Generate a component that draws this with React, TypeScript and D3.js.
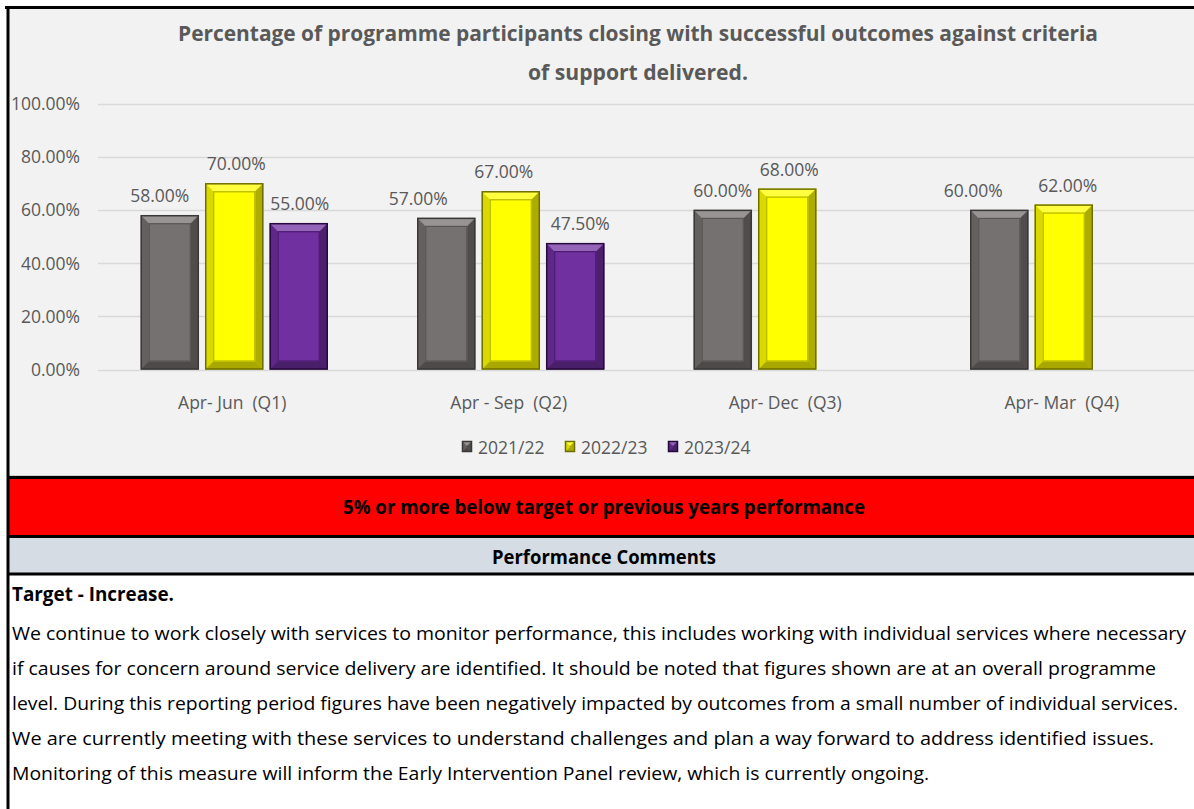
import React from "react";
import * as d3 from "d3";

const categories = ["Apr- Jun  (Q1)", "Apr - Sep  (Q2)", "Apr- Dec  (Q3)", "Apr- Mar  (Q4)"];
const seriesNames = ["2021/22", "2022/23", "2023/24"];
const values2122: (number | null)[] = [0.58, 0.57, 0.6, 0.6];
const values2223: (number | null)[] = [0.7, 0.67, 0.68, 0.62];
const values2324: (number | null)[] = [0.55, 0.475, null, null];
const yTicks = [0, 0.2, 0.4, 0.6, 0.8, 1.0];

const titleLines = [
  "Percentage of programme participants closing with successful outcomes against criteria",
  "of support delivered.",
];
const statusText = "5% or more below target or previous years performance";
const commentsHeader = "Performance Comments";
const targetText = "Target - Increase.";
const commentLines = [
  "We continue to work closely with services to monitor performance, this includes working with individual services where necessary",
  "if causes for concern around service delivery are identified. It should be noted that figures shown are at an overall programme",
  "level. During this reporting period figures have been negatively impacted by outcomes from a small number of individual services.",
  "We are currently meeting with these services to understand challenges and plan a way forward to address identified issues.",
  "Monitoring of this measure will inform the Early Intervention Panel review, which is currently ongoing.",
];

// styling / layout (not data)
const seriesStyle = [
  { fill: "#767171", border: "#3a3737", inner: "#5a5656" },
  { fill: "#ffff00", border: "#6e6e00", inner: "#b5b500" },
  { fill: "#7030a0", border: "#26093d", inner: "#4c1c70" },
];
const labelDx = [
  [-10, 2, 1],
  [-28, -7, 5],
  [0, 2, 0],
  [-26, 4, 0],
];
const commentWidths = [1174, 1144, 1166, 1142, 917];
const FONT = "'Open Sans', 'Noto Sans', sans-serif";
const TEXT_GREY = "#595959";

function Bar({ x, y, w, h, s }: { x: number; y: number; w: number; h: number; s: (typeof seriesStyle)[number] }) {
  const b = Math.min(8, h / 2);
  const x2 = x + w;
  const y2 = y + h;
  const top = `${x},${y} ${x2},${y} ${x2 - b},${y + b} ${x + b},${y + b}`;
  const left = `${x},${y} ${x + b},${y + b} ${x + b},${y2 - b} ${x},${y2}`;
  const right = `${x2},${y} ${x2},${y2} ${x2 - b},${y2 - b} ${x2 - b},${y + b}`;
  const bottom = `${x},${y2} ${x + b},${y2 - b} ${x2 - b},${y2 - b} ${x2},${y2}`;
  return (
    <g>
      <rect x={x} y={y} width={w} height={h} fill={s.fill} />
      <polygon points={top} fill="#ffffff" opacity={0.25} />
      <polygon points={left} fill="#000000" opacity={0.15} />
      <polygon points={right} fill="#000000" opacity={0.32} />
      <polygon points={bottom} fill="#000000" opacity={0.34} />
      <rect x={x + b + 0.5} y={y + b + 0.5} width={Math.max(0, w - 2 * b - 1)} height={Math.max(0, h - 2 * b - 1)} fill="none" stroke={s.inner} strokeWidth={1.2} />
      <rect x={x + 0.5} y={y + 0.5} width={w - 1} height={h - 1} fill="none" stroke={s.border} strokeWidth={1.5} />
    </g>
  );
}

export default function App() {
  const W = 1194;
  const H = 809;
  const seriesValues = [values2122, values2223, values2324];

  const x0 = d3.scaleBand<string>().domain(categories).range([96, 1202]).paddingInner(0.3237).paddingOuter(0.16185);
  const x1 = d3.scaleBand<string>().domain(seriesNames).range([0, x0.bandwidth()]).paddingInner(0.1);
  const y = d3.scaleLinear().domain([0, 1]).range([369.5, 103.5]);
  const fmt = d3.format(".2%");

  return (
    <svg width={W} height={H} style={{ position: "absolute", left: 0, top: 0, display: "block" }} fontFamily={FONT}>
      <rect x={0} y={0} width={W} height={H} fill="#ffffff" />
      {/* chart area */}
      <rect x={9} y={9} width={W - 9} height={467} fill="#f2f2f2" />
      <line x1={9} x2={W} y1={475.5} y2={475.5} stroke="#cfcfcf" strokeWidth={1} />

      {/* title */}
      <text x={638} y={41} textAnchor="middle" fontSize={22} fontWeight={700} fill={TEXT_GREY} textLength={920} lengthAdjust="spacingAndGlyphs">
        {titleLines[0]}
      </text>
      <text x={638} y={80} textAnchor="middle" fontSize={22} fontWeight={700} fill={TEXT_GREY} textLength={220} lengthAdjust="spacingAndGlyphs">
        {titleLines[1]}
      </text>

      {/* gridlines & y ticks */}
      {yTicks.map((t) => (
        <g key={t}>
          <line x1={98} x2={W} y1={Math.round(y(t)) + 0.5} y2={Math.round(y(t)) + 0.5} stroke="#d9d9d9" strokeWidth={1.3} />
          <text x={80} y={y(t) + 6.5} textAnchor="end" fontSize={17.5} fill={TEXT_GREY}>
            {fmt(t)}
          </text>
        </g>
      ))}

      {/* bars */}
      {categories.map((c, ci) => (
        <g key={c}>
          {seriesNames.map((sn, si) => {
            const v = seriesValues[si][ci];
            if (v == null) return null;
            const bx = (x0(c) as number) + (x1(sn) as number);
            const bw = x1.bandwidth();
            const by = y(v);
            const bh = y(0) - by;
            return (
              <g key={sn}>
                <Bar x={bx} y={by} w={bw} h={bh} s={seriesStyle[si]} />
                <text x={bx + bw / 2 + labelDx[ci][si]} y={by - 13} textAnchor="middle" fontSize={17.5} fill={TEXT_GREY}>
                  {fmt(v)}
                </text>
              </g>
            );
          })}
          <text x={(x0(c) as number) + x0.bandwidth() / 2 - 2} y={409} textAnchor="middle" fontSize={17.5} fill={TEXT_GREY} style={{ whiteSpace: "pre" }}>
            {c}
          </text>
        </g>
      ))}

      {/* legend */}
      {seriesNames.map((sn, i) => {
        const lx = 462 + i * 103;
        return (
          <g key={sn}>
            <Bar x={lx} y={441} w={10} h={11} s={{ ...seriesStyle[i], inner: seriesStyle[i].fill }} />
            <text x={lx + 16} y={454} fontSize={17.5} fill={TEXT_GREY}>
              {sn}
            </text>
          </g>
        );
      })}

      {/* status band */}
      <rect x={9} y={479} width={W - 9} height={56} fill="#ff0000" />
      <text x={604} y={514} textAnchor="middle" fontSize={20} fontWeight={700} fill="#000000" textLength={522} lengthAdjust="spacingAndGlyphs">
        {statusText}
      </text>

      {/* comments header */}
      <rect x={9} y={538} width={W - 9} height={35} fill="#d6dce4" />
      <text x={604} y={564} textAnchor="middle" fontSize={20} fontWeight={700} fill="#000000" textLength={224} lengthAdjust="spacingAndGlyphs">
        {commentsHeader}
      </text>

      {/* comments text */}
      <text x={12} y={601} fontSize={20} fontWeight={700} fill="#000000" textLength={162} lengthAdjust="spacingAndGlyphs">
        {targetText}
      </text>
      {commentLines.map((l, i) => (
        <text key={i} x={12} y={640 + i * 35} fontSize={18.5} fill="#000000" textLength={commentWidths[i]} lengthAdjust="spacingAndGlyphs">
          {l}
        </text>
      ))}

      {/* borders */}
      <line x1={5} x2={W} y1={7.5} y2={7.5} stroke="#000" strokeWidth={3} />
      <line x1={8} x2={8} y1={6} y2={H} stroke="#000" strokeWidth={3} />
      <line x1={8} x2={W} y1={477.5} y2={477.5} stroke="#000" strokeWidth={3} />
      <line x1={8} x2={W} y1={536.5} y2={536.5} stroke="#000" strokeWidth={3} />
      <line x1={8} x2={W} y1={574} y2={574} stroke="#000" strokeWidth={3} />
    </svg>
  );
}
